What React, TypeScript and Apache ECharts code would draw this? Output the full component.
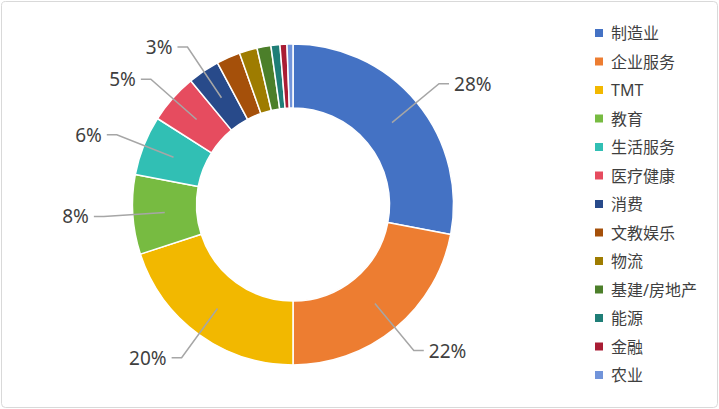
import React, { useEffect, useRef } from "react";
import * as echarts from "echarts";

const categories = [
  "制造业", "企业服务", "TMT", "教育", "生活服务", "医疗健康", "消费",
  "文教娱乐", "物流", "基建/房地产", "能源", "金融", "农业",
];
const values = [28, 22, 20, 8, 6, 5, 3.2, 2.4, 1.8, 1.4, 0.9, 0.7, 0.6];
const colors = [
  "#4472C4", "#ED7D31", "#F2B800", "#77BB41", "#31BFB4", "#E64C5F", "#284A8A",
  "#A5500A", "#9E7C00", "#4C7F2A", "#1F7E77", "#A91D34", "#7194DA",
];
const labelCount = 7;

const FONT = "'Noto Sans', 'Noto Sans CJK SC', sans-serif";

export default function App() {
  const ref = useRef<HTMLDivElement>(null);
  useEffect(() => {
    if (!ref.current) return;
    const chart = echarts.init(ref.current, null, { renderer: "svg" });
    const center = [293, 204.5];
    chart.setOption({
      animation: false,
      backgroundColor: "#ffffff",
      color: colors,
      graphic: [
        {
          type: "rect",
          shape: { x: 1.5, y: 1.5, width: 716, height: 406, r: 4 },
          style: { fill: "none", stroke: "#D9D9D9", lineWidth: 1 },
          silent: true,
          z: -1,
        },
      ],
      legend: {
        orient: "vertical",
        left: 593,
        top: 24,
        padding: 0,
        itemWidth: 10,
        itemHeight: 10,
        itemGap: 10.5,
        icon: "rect",
        data: categories,
        textStyle: {
          fontFamily: FONT,
          fontSize: 16,
          lineHeight: 18,
          color: "#3F3F3F",
          padding: [0, 0, 0, 2],
        },
      },
      series: [
        {
          type: "pie",
          center,
          radius: [96.5, 160.5],
          startAngle: 90,
          clockwise: true,
          avoidLabelOverlap: false,
          label: { show: false },
          labelLine: { show: false },
          itemStyle: { borderColor: "#ffffff", borderWidth: 1.5 },
          emphasis: { disabled: true },
          z: 2,
          data: categories.map((name, i) => ({ name, value: values[i] })),
        },
        {
          type: "pie",
          center,
          radius: [0, 128.5],
          startAngle: 90,
          clockwise: true,
          silent: true,
          z: 5,
          avoidLabelOverlap: false,
          legendHoverLink: false,
          itemStyle: { color: "transparent", borderWidth: 0 },
          emphasis: { disabled: true },
          label: {
            show: true,
            position: "outside",
            fontFamily: FONT,
            fontSize: 19,
            color: "#3F3F3F",
            distanceToLabelLine: 5,
            formatter: (p: any) => Math.round(p.percent) + "%",
          },
          labelLine: {
            show: true,
            length: 61,
            length2: 10,
            smooth: false,
            lineStyle: { color: "#A6A6A6", width: 1.5 },
          },
          data: categories.map((name, i) => ({
            name,
            value: values[i],
            label: { show: i < labelCount },
            labelLine: { show: i < labelCount },
          })),
        },
      ],
    });
    return () => chart.dispose();
  }, []);
  return (
    <div
      ref={ref}
      style={{ position: "absolute", left: 0, top: 0, width: 719, height: 409 }}
    />
  );
}
